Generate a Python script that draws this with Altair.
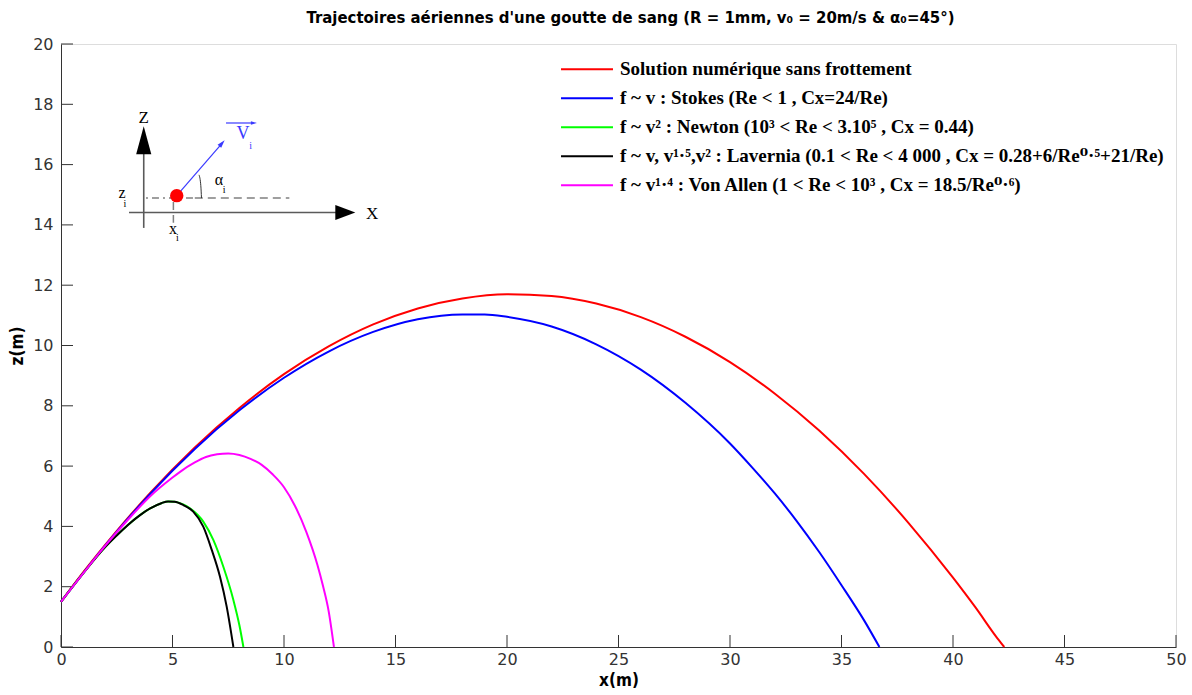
import altair as alt
import pandas as pd

# ---------------- data ----------------
names = [
    "Solution numérique sans frottement",
    "f ~ v : Stokes (Re < 1 , Cx=24/Re)",
    "f ~ v² : Newton (10³ < Re < 3.10⁵ , Cx = 0.44)",
    "f ~ v, v¹·⁵,v² : Lavernia (0.1 < Re < 4 000 , Cx = 0.28+6/Re⁰·⁵+21/Re)",
    "f ~ v¹·⁴ : Von Allen (1 < Re < 10³ , Cx = 18.5/Re⁰·⁶)",
]
colors = ["#ff0000", "#0000ff", "#00ff00", "#000000", "#ff00ff"]

red_x = [0, 1, 2, 3, 4, 6, 8, 10, 12, 14, 16, 18, 20, 22, 24, 26, 28, 30, 32, 34, 36, 38, 40, 41, 42, 42.3]
red_z = [1.5, 2.48, 3.40, 4.28, 5.11, 6.62, 7.93, 9.05, 9.97, 10.70, 11.23, 11.56, 11.70, 11.64, 11.39,
         10.94, 10.29, 9.45, 8.41, 7.18, 5.75, 4.12, 2.30, 1.32, 0.28, 0.0]

blue_x = [0, 2, 4, 6, 8, 10, 12, 14, 16, 18, 19, 20, 22, 24, 26, 28, 30, 31, 32, 33, 34, 35, 36, 36.7]
blue_z = [1.5, 3.38, 5.08, 6.57, 7.85, 8.93, 9.80, 10.45, 10.87, 11.03, 11.03, 10.95, 10.63, 10.04,
          9.2, 8.1, 6.75, 5.95, 5.1, 4.17, 3.15, 2.05, 0.9, 0.0]

green_x = [0, 1, 2, 3, 4, 4.5, 4.8, 5.1, 5.5, 5.78, 6.38, 6.83, 7.28, 7.73, 8.0, 8.18]
green_z = [1.5, 2.45, 3.33, 4.05, 4.6, 4.77, 4.83, 4.82, 4.72, 4.6, 4.16, 3.55, 2.66, 1.56, 0.72, 0.0]

black_x = [0, 1, 2, 2.5, 3, 3.5, 4, 4.5, 4.8, 5.1, 5.5, 5.93, 6.38, 6.76, 7.13, 7.43, 7.73]
black_z = [1.5, 2.45, 3.33, 3.7, 4.05, 4.35, 4.6, 4.77, 4.83, 4.82, 4.7, 4.49, 3.99, 3.22, 2.33,
           1.34, 0.0]

mag_x = [0, 1, 2, 3, 4, 5, 5.34, 6, 6.5, 7, 7.5, 8, 8.5, 9, 9.5, 10, 10.5, 11, 11.5, 11.75, 12.0, 12.24]
mag_z = [1.5, 2.45, 3.37, 4.22, 5.0, 5.62, 5.81, 6.12, 6.3, 6.39, 6.42, 6.37, 6.24, 6.04, 5.72, 5.3,
         4.67, 3.82, 2.72, 2.02, 1.2, 0.0]

x_ticks = list(range(0, 51, 5))
y_ticks = list(range(0, 21, 2))

title_text = "Trajectoires aériennes d'une goutte de sang (R = 1mm, v₀ = 20m/s & α₀=45°)"
COND = "Liberation Sans Narrow, DejaVu Sans Condensed, sans-serif"
SERIF = "Liberation Serif, DejaVu Serif, serif"

# inset diagram (in data units)
diag_dot_seg = ["zd", "zd"]
diag_dot_x = [3.81, 6.0]
diag_dot_z = [14.89, 14.89]

diag_dash_seg = ["zi", "zi", "xi", "xi"]
diag_dash_x = [6.0, 10.24, 5.04, 5.04]
diag_dash_z = [14.89, 14.89, 14.76, 14.07]

diag_axis_seg = ["zax", "zax", "xax", "xax"]
diag_axis_x = [3.71, 3.71, 3.05, 12.4]
diag_axis_z = [13.90, 16.5, 14.41, 14.41]

diag_blue_seg = ["v", "v", "vec", "vec"]
diag_blue_x = [5.19, 7.25, 7.40, 8.6]
diag_blue_z = [14.97, 16.73, 17.38, 17.38]

diag_arc_x = [6.19, 6.27, 6.30]
diag_arc_z = [15.66, 15.30, 14.89]

diag_txt = ["Z", "X", "z", "i", "x", "i", "α", "i"]
diag_txt_x = [3.71, 13.95, 2.74, 2.86, 5.02, 5.22, 7.08, 7.32]
diag_txt_z = [17.55, 14.35, 15.06, 14.68, 13.85, 13.55, 15.49, 15.17]
diag_txt_size = [17, 17, 16, 10, 16, 10, 16, 10]

diag_btxt = ["V", "i"]
diag_btxt_x = [8.16, 8.5]
diag_btxt_z = [17.0, 16.62]
diag_btxt_size = [18, 10]

dot_x, dot_z = [5.19], [14.97]

# ---------------- tables ----------------
rows = []
for name, xs_, zs_ in zip(names, [red_x, blue_x, green_x, black_x, mag_x],
                          [red_z, blue_z, green_z, black_z, mag_z]):
    for i, (a, b) in enumerate(zip(xs_, zs_)):
        rows.append({"series": name, "x": a, "z": b, "o": i})
df = pd.DataFrame(rows)

W, H = 1115, 603
xs = alt.Scale(domain=[0, 50], nice=False, zero=False)
ys = alt.Scale(domain=[0, 20], nice=False, zero=False)

x_axis = alt.Axis(values=x_ticks, title="x(m)", grid=False, ticks=False, tickSize=0,
                  domainColor="#333333", domainWidth=1, labelFont="DejaVu Sans", labelFontSize=16,
                  labelColor="#333333", labelPadding=4, labelFlush=False, labelOverlap=False,
                  titleFont=COND, titleFontWeight="bold", titleFontSize=17,
                  titleColor="black", titlePadding=5)
y_axis = alt.Axis(values=y_ticks, title="z(m)", grid=False, ticks=False, tickSize=0,
                  domainColor="#333333", domainWidth=1, labelFont="DejaVu Sans", labelFontSize=16,
                  labelColor="#333333", labelPadding=8, labelFlush=False, labelOverlap=False,
                  titleFont=COND, titleFontWeight="bold", titleFontSize=17,
                  titleColor="black", titlePadding=6)


def X(f):
    return alt.X(f, type="quantitative", scale=xs, axis=x_axis)


def Y(f):
    return alt.Y(f, type="quantitative", scale=ys, axis=y_axis)


lines = alt.Chart(df).mark_line(strokeWidth=2, interpolate="monotone").encode(
    x=X("x"), y=Y("z"),
    color=alt.Color("series:N", scale=alt.Scale(domain=names, range=colors), sort=names,
                    legend=alt.Legend(title=None, orient="none", legendX=499, legendY=11,
                                      symbolType="stroke", symbolSize=2700, symbolStrokeWidth=2,
                                      labelFont=SERIF, labelFontWeight="bold",
                                      labelFontSize=19, labelColor="black", labelLimit=900,
                                      clipHeight=28.5, rowPadding=0, labelOffset=6, padding=0)),
    order="o:Q",
)

xt = alt.Chart(pd.DataFrame({"t": x_ticks})).mark_rule(color="#333333", strokeWidth=1).encode(
    x=X("t"), y=alt.value(H), y2=alt.value(H - 12))
yt = alt.Chart(pd.DataFrame({"t": y_ticks})).mark_rule(color="#333333", strokeWidth=1).encode(
    y=Y("t"), x=alt.value(0), x2=alt.value(12))

dotl_df = pd.DataFrame({"seg": diag_dot_seg, "x": diag_dot_x, "z": diag_dot_z, "o": range(2)})
dotl = alt.Chart(dotl_df).mark_line(color="#808080", strokeWidth=1.5, strokeDash=[2, 4, 7, 4]).encode(
    x=X("x"), y=Y("z"), detail="seg:N", order="o:Q")

dash_df = pd.DataFrame({"seg": diag_dash_seg, "x": diag_dash_x, "z": diag_dash_z, "o": range(4)})
dash = alt.Chart(dash_df).mark_line(color="#808080", strokeWidth=1.5, strokeDash=[8, 5]).encode(
    x=X("x"), y=Y("z"), detail="seg:N", order="o:Q")

ax_df = pd.DataFrame({"seg": diag_axis_seg, "x": diag_axis_x, "z": diag_axis_z, "o": range(4)})
axl = alt.Chart(ax_df).mark_line(color="#5a5a5a", strokeWidth=1.6).encode(
    x=X("x"), y=Y("z"), detail="seg:N", order="o:Q")

bl_df = pd.DataFrame({"seg": diag_blue_seg, "x": diag_blue_x, "z": diag_blue_z, "o": range(4)})
bll = alt.Chart(bl_df).mark_line(color="#3a3aff", strokeWidth=1.2).encode(
    x=X("x"), y=Y("z"), detail="seg:N", order="o:Q")

arc_df = pd.DataFrame({"x": diag_arc_x, "z": diag_arc_z, "o": range(3)})
arc = alt.Chart(arc_df).mark_line(color="#333333", strokeWidth=1, interpolate="monotone").encode(
    x=X("x"), y=Y("z"), order="o:Q")

zhead = alt.Chart(pd.DataFrame({"x": [3.71], "z": [16.81]})).mark_point(
    shape="M-0.54,1L0,-1L0.54,1Z", size=784, filled=True, color="black", opacity=1, strokeWidth=0
).encode(x=X("x"), y=Y("z"))
xhead = alt.Chart(pd.DataFrame({"x": [12.75], "z": [14.41]})).mark_point(
    shape="M-1,-0.75L1,0L-1,0.75Z", size=400, filled=True, color="black", opacity=1, strokeWidth=0
).encode(x=X("x"), y=Y("z"))
vhead = alt.Chart(pd.DataFrame({"x": [7.22], "z": [16.71]})).mark_point(
    shape="M-0.6,1L0,-1L0.6,1Z", size=64, angle=41, filled=True, color="#3a3aff", opacity=1,
    strokeWidth=0).encode(x=X("x"), y=Y("z"))
vvhead = alt.Chart(pd.DataFrame({"x": [8.65], "z": [17.38]})).mark_point(
    shape="M-1,-0.6L1,0L-1,0.6Z", size=36, filled=True, color="#3a3aff", opacity=1,
    strokeWidth=0).encode(x=X("x"), y=Y("z"))

dot = alt.Chart(pd.DataFrame({"x": dot_x, "z": dot_z})).mark_circle(
    size=180, color="#ff0000", opacity=1).encode(x=X("x"), y=Y("z"))

txt = alt.Chart(pd.DataFrame({"t": diag_txt, "x": diag_txt_x, "z": diag_txt_z, "s": diag_txt_size})
                ).mark_text(font=SERIF, color="black", align="center",
                            baseline="middle").encode(
    x=X("x"), y=Y("z"), text="t:N", size=alt.Size("s:Q", scale=None))
btxt = alt.Chart(pd.DataFrame({"t": diag_btxt, "x": diag_btxt_x, "z": diag_btxt_z, "s": diag_btxt_size})
                 ).mark_text(font=SERIF, color="#3a3aff", align="center",
                             baseline="middle").encode(
    x=X("x"), y=Y("z"), text="t:N", size=alt.Size("s:Q", scale=None))

chart = alt.layer(
    xt, yt, dotl, dash, axl, arc, bll, vhead, vvhead, zhead, xhead, dot, txt, btxt, lines
).properties(
    width=W, height=H,
    title=alt.TitleParams(text=title_text, font=COND, fontSize=16.6,
                          fontWeight="bold", color="black", anchor="middle", dx=12, offset=9),
    autosize=alt.AutoSizeParams(type="none"),
    padding={"left": 61, "top": 44, "right": 16, "bottom": 48},
).configure_view(stroke=None).configure(background="white")

chart.save("out.html", embed_options={"renderer": "svg", "actions": False})
